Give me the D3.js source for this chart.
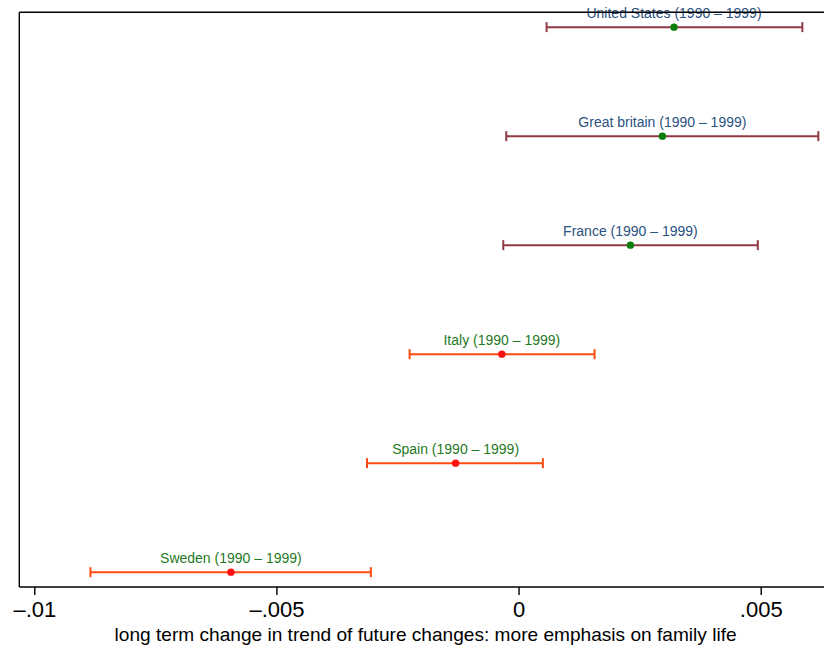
<!DOCTYPE html>
<html>
<head>
<meta charset="utf-8">
<script src="https://cdn.jsdelivr.net/npm/d3@7/dist/d3.min.js"></script>
<style>
  html, body { margin: 0; padding: 0; background: #ffffff; }
  svg { display: block; font-family: "Liberation Sans", Arial, Helvetica, sans-serif; }
</style>
</head>
<body>
<svg id="chart" width="824" height="648"></svg>
<script>
// Countries, top to bottom
const countries = ["United States", "Great britain", "France", "Italy", "Spain", "Sweden"];
const period = "(1990 \u2013 1999)";
// Point estimates and confidence bounds
const estimates = [0.00321, 0.00297, 0.00231, -0.000345, -0.0013, -0.00594];
const lowerBounds = [0.000579, -0.000254, -0.000316, -0.00225, -0.00313, -0.00884];
const upperBounds = [0.00586, 0.00619, 0.00494, 0.00157, 0.000502, -0.00305];
// Colour group of each country
const groups = ["a", "a", "a", "b", "b", "b"];
// Axis ticks
const tickValues = [-0.01, -0.005, 0, 0.005];
const tickLabels = ["\u2013.01", "\u2013.005", "0", ".005"];
const axisTitle = "long term change in trend of future changes: more emphasis on family life";

const palette = {
  a: { bar: "#923a44", point: "#0b7d0b", label: "#2a5180" },
  b: { bar: "#ff4a10", point: "#ff1010", label: "#1f7a1f" }
};

const W = 824, H = 648;
const frame = { left: 19.3, top: 12.3, bottom: 587, right: 840 };

const rows = countries.map((c, i) => ({
  country: c, est: estimates[i], lo: lowerBounds[i], hi: upperBounds[i], group: groups[i]
}));

const x = d3.scaleLinear().domain([-0.01, 0.005]).range([34.3, 760.7]);
const y = d3.scalePoint().domain(countries).range([frame.top, frame.bottom]).padding(0.136);

const svg = d3.select("#chart");

// Error bars
const bars = svg.append("g").selectAll("g").data(rows).join("g");
bars.append("line")
  .attr("x1", d => x(d.lo)).attr("x2", d => x(d.hi))
  .attr("y1", d => y(d.country)).attr("y2", d => y(d.country))
  .attr("stroke", d => palette[d.group].bar).attr("stroke-width", 2);
["lo", "hi"].forEach(k => {
  bars.append("line")
    .attr("x1", d => x(d[k])).attr("x2", d => x(d[k]))
    .attr("y1", d => y(d.country) - 5).attr("y2", d => y(d.country) + 5)
    .attr("stroke", d => palette[d.group].bar).attr("stroke-width", 2);
});
bars.append("circle")
  .attr("cx", d => x(d.est)).attr("cy", d => y(d.country)).attr("r", 3.7)
  .attr("fill", d => palette[d.group].point);
bars.append("text")
  .attr("x", d => x(d.est)).attr("y", d => y(d.country) - 9)
  .attr("text-anchor", "middle")
  .attr("font-size", 14)
  .attr("fill", d => palette[d.group].label)
  .text(d => `${d.country} ${period}`);

// Frame lines: left, top, and bottom axis line
const fr = svg.append("g").attr("stroke", "#000").attr("stroke-width", 1.4).attr("fill", "none");
fr.append("line").attr("x1", frame.left).attr("x2", frame.left).attr("y1", frame.top).attr("y2", frame.bottom);
fr.append("line").attr("x1", frame.left).attr("x2", frame.right).attr("y1", frame.top).attr("y2", frame.top);
fr.append("line").attr("x1", frame.left).attr("x2", frame.right).attr("y1", frame.bottom).attr("y2", frame.bottom);

// Bottom axis ticks and labels
const axis = d3.axisBottom(x)
  .tickValues(tickValues)
  .tickSize(8)
  .tickPadding(6)
  .tickFormat((d, i) => tickLabels[i]);
const gx = svg.append("g").attr("transform", `translate(0,${frame.bottom})`).call(axis);
gx.select(".domain").remove();
gx.selectAll(".tick line").attr("stroke", "#000").attr("stroke-width", 1.4);
gx.selectAll(".tick text")
  .attr("font-size", 22)
  .attr("font-family", "\"Liberation Sans\", Arial, sans-serif")
  .attr("fill", "#000");

// Axis title
svg.append("text")
  .attr("x", 425.6).attr("y", 640.5)
  .attr("text-anchor", "middle")
  .attr("font-size", 18.5)
  .attr("textLength", 622)
  .attr("lengthAdjust", "spacingAndGlyphs")
  .attr("fill", "#000")
  .text(axisTitle);
</script>
</body>
</html>
